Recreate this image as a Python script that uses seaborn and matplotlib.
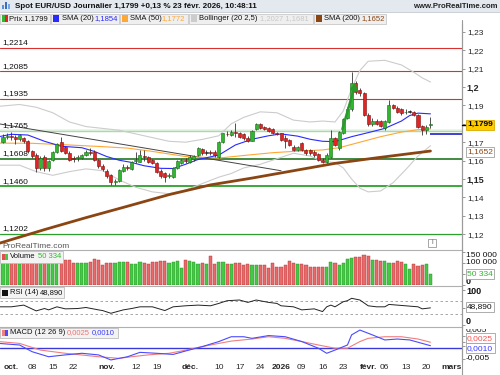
import numpy as np
import pandas as pd
import matplotlib
matplotlib.use("Agg")
import matplotlib.pyplot as plt
from matplotlib.patches import Rectangle
from matplotlib.lines import Line2D
from matplotlib.transforms import Bbox, blended_transform_factory
import seaborn as sns

# ---------------- data ----------------
first_day = "2025-09-29"
holidays = ["2025-12-25", "2026-01-01"]

open_ = [1.1703,1.1730,1.1733,1.1728,1.1716,1.1722,1.1705,1.1650,1.1628,1.1558,
         1.1621,1.1562,1.1603,1.1649,1.1699,1.1672,1.1643,1.1612,1.1612,1.1616,
         1.1630,1.1649,1.1649,1.1603,1.1572,1.1545,1.1520,1.1484,1.1489,1.1545,
         1.1566,1.1553,1.1598,1.1594,1.1625,1.1618,1.1603,1.1585,1.1545,1.1534,
         1.1518,1.1513,1.1561,1.1585,1.1603,1.1594,1.1606,1.1630,1.1661,1.1643,
         1.1645,1.1648,1.1621,1.1703,1.1745,1.1739,1.1755,1.1752,1.1743,1.1725,
         1.1708,1.1770,1.1797,1.1784,1.1775,1.1770,1.1748,1.1748,1.1721,1.1712,
         1.1676,1.1658,1.1694,1.1658,1.1658,1.1648,1.1636,1.1603,1.1594,1.1621,
         1.1721,1.1667,1.1752,1.1830,1.1880,1.2020,1.1984,1.1966,1.1848,1.1799,
         1.1815,1.1815,1.1775,1.1811,1.1902,1.1888,1.1879,1.1862,1.1866,1.1866,
         1.1848,1.1788,1.1766,1.1793]
high = [1.1742,1.1752,1.1755,1.1740,1.1745,1.1730,1.1710,1.1660,1.1640,1.1625,
        1.1628,1.1605,1.1652,1.1698,1.1728,1.1680,1.1650,1.1625,1.1630,1.1636,
        1.1656,1.1667,1.1660,1.1610,1.1580,1.1556,1.1528,1.1502,1.1555,1.1580,
        1.1578,1.1600,1.1648,1.1655,1.1657,1.1625,1.1610,1.1590,1.1552,1.1540,
        1.1530,1.1565,1.1602,1.1610,1.1612,1.1628,1.1630,1.1672,1.1670,1.1660,
        1.1658,1.1655,1.1708,1.1752,1.1760,1.1765,1.1803,1.1758,1.1750,1.1732,
        1.1768,1.1803,1.1806,1.1790,1.1782,1.1775,1.1755,1.1752,1.1740,1.1718,
        1.1685,1.1682,1.1700,1.1665,1.1665,1.1655,1.1642,1.1612,1.1640,1.1767,
        1.1730,1.1762,1.1830,1.1890,1.2083,1.2030,1.1995,1.1975,1.1860,1.1830,
        1.1825,1.1820,1.1822,1.1929,1.1910,1.1895,1.1885,1.1878,1.1875,1.1872,
        1.1855,1.1795,1.1792,1.1839]
low = [1.1698,1.1715,1.1712,1.1690,1.1708,1.1698,1.1640,1.1615,1.1540,1.1548,
       1.1545,1.1545,1.1596,1.1640,1.1645,1.1635,1.1598,1.1590,1.1600,1.1608,
       1.1625,1.1630,1.1598,1.1562,1.1545,1.1505,1.1470,1.1468,1.1484,1.1540,
       1.1550,1.1548,1.1585,1.1590,1.1600,1.1588,1.1580,1.1530,1.1505,1.1485,
       1.1505,1.1508,1.1555,1.1580,1.1585,1.1588,1.1600,1.1625,1.1632,1.1630,
       1.1632,1.1622,1.1615,1.1698,1.1732,1.1735,1.1730,1.1722,1.1712,1.1700,
       1.1705,1.1765,1.1770,1.1765,1.1755,1.1742,1.1738,1.1705,1.1667,1.1680,
       1.1652,1.1650,1.1650,1.1632,1.1632,1.1622,1.1598,1.1585,1.1588,1.1612,
       1.1680,1.1660,1.1745,1.1825,1.1870,1.1960,1.1950,1.1840,1.1790,1.1790,
       1.1795,1.1782,1.1768,1.1805,1.1878,1.1860,1.1850,1.1855,1.1858,1.1840,
       1.1778,1.1740,1.1745,1.1778]
close = [1.1730,1.1733,1.1728,1.1716,1.1738,1.1705,1.1650,1.1625,1.1562,1.1616,
         1.1558,1.1598,1.1645,1.1688,1.1652,1.1640,1.1603,1.1607,1.1618,1.1630,
         1.1649,1.1640,1.1603,1.1570,1.1554,1.1515,1.1485,1.1490,1.1549,1.1567,
         1.1558,1.1594,1.1603,1.1630,1.1621,1.1594,1.1585,1.1540,1.1516,1.1512,
         1.1522,1.1558,1.1597,1.1603,1.1598,1.1621,1.1625,1.1666,1.1639,1.1645,
         1.1640,1.1630,1.1703,1.1748,1.1742,1.1757,1.1750,1.1730,1.1721,1.1708,
         1.1763,1.1797,1.1775,1.1770,1.1763,1.1748,1.1745,1.1712,1.1705,1.1685,
         1.1658,1.1676,1.1658,1.1639,1.1639,1.1630,1.1603,1.1594,1.1630,1.1721,
         1.1685,1.1757,1.1824,1.1880,1.2020,1.1975,1.1966,1.1848,1.1797,1.1815,
         1.1799,1.1790,1.1815,1.1902,1.1884,1.1866,1.1857,1.1866,1.1868,1.1848,
         1.1784,1.1766,1.1784,1.1799]
volume_thousands = [105,105,105,105,93,105,105,105,105,105,
                    105,105,105,105,105,112,112,97,97,97,
                    97,105,117,112,90,97,97,97,102,102,
                    105,95,95,105,97,94,105,105,109,109,
                    97,105,109,75,112,108,102,94,97,94,
                    130,93,102,102,95,95,97,97,90,93,
                    90,90,90,90,76,97.5,82.5,82.5,90,108,
                    97.5,94.5,93,90,82.5,82.5,82.5,79.5,82.5,102,
                    97.5,90,97.5,117,120,127.5,124.5,135,132,112.5,
                    112.5,108,109.5,97.5,97.5,108,102,94.5,72,93,
                    85.5,90,93,50.334]

# indicator lines (trading-day number, value)
sma20_day = [-1, 2, 6, 10, 14, 19, 22, 25, 28, 31, 34, 38, 41, 44, 47, 52, 56, 60, 64, 67, 71, 74, 77, 80, 84, 88, 92, 96, 98, 100, 103]
sma20_val = [1.1730, 1.1743, 1.1739, 1.1705, 1.1678, 1.1670, 1.1650, 1.1622, 1.1602, 1.1590, 1.1572, 1.1558, 1.1557, 1.1580, 1.1606, 1.1630, 1.1685, 1.1716, 1.1735, 1.1745, 1.1733, 1.1716, 1.1705, 1.1703, 1.1730, 1.1752, 1.1775, 1.1815, 1.1845, 1.1858, 1.1854]
sma50_day = [-1, 7, 15, 23, 30, 36, 44, 52, 59, 65, 70, 77, 81, 86, 91, 96, 100, 103]
sma50_val = [1.1695, 1.1694, 1.1686, 1.1677, 1.1668, 1.1650, 1.1622, 1.1614, 1.1630, 1.1643, 1.1650, 1.1658, 1.1670, 1.1700, 1.1730, 1.1755, 1.1768, 1.1772]
sma200_day = [-1, 10, 20, 30, 40, 50, 60, 70, 80, 90, 103]
sma200_val = [1.1150, 1.1225, 1.1290, 1.1352, 1.1415, 1.1468, 1.1505, 1.1545, 1.1585, 1.1615, 1.1652]
bb_up_day = [-1, 4, 8, 12, 16, 20, 24, 28, 32, 36, 40, 44, 48, 52, 55, 58, 62, 66, 70, 74, 77, 80, 82, 84, 86, 88, 92, 96, 99, 101, 103]
bb_up_val = [1.1895, 1.1905, 1.1890, 1.1860, 1.1810, 1.1785, 1.1775, 1.1765, 1.1745, 1.1725, 1.1705, 1.1700, 1.1715, 1.1735, 1.1800, 1.1835, 1.1865, 1.1860, 1.1820, 1.1810, 1.1815, 1.1810, 1.1870, 1.1990, 1.2090, 1.2140, 1.2145, 1.2120, 1.2080, 1.2050, 1.2027]
bb_lo_day = [-1, 4, 8, 12, 16, 20, 24, 28, 32, 36, 40, 44, 48, 52, 55, 58, 62, 66, 70, 74, 77, 80, 82, 84, 86, 88, 91, 94, 97, 100, 103]
bb_lo_val = [1.1575, 1.1575, 1.1540, 1.1520, 1.1540, 1.1555, 1.1545, 1.1495, 1.1455, 1.1430, 1.1420, 1.1440, 1.1475, 1.1510, 1.1530, 1.1560, 1.1580, 1.1610, 1.1640, 1.1625, 1.1595, 1.1590, 1.1560, 1.1500, 1.1450, 1.1430, 1.1435, 1.1480, 1.1550, 1.1625, 1.1681]
rsi_day = [-1, 2, 5, 8, 10, 11, 13, 15, 18, 20, 23, 24, 26, 29, 31, 33, 36, 39, 41, 44, 47, 50, 52, 54, 57, 59, 61, 64, 66, 67, 70, 72, 75, 77, 78, 79, 80, 82, 83, 84, 86, 88, 90, 92, 93, 95, 97, 100, 101, 103]
rsi_val = [52, 52, 57, 40, 47, 43, 52, 46, 47, 50, 43, 41, 33, 43, 47, 52, 52, 41, 52, 55, 57, 55, 62, 70, 72, 65, 72, 65, 62, 55, 52, 43, 46, 38, 52, 57, 52, 67, 70, 77, 72, 55, 52, 52, 59, 57, 55, 52, 46, 48.89]
macd_red_day = [-1, 4, 9, 15, 23, 28, 31, 35, 40, 43, 48, 52, 55, 60, 64, 68, 72, 76, 80, 83, 86, 88, 92, 96, 100, 103]
macd_red_val = [0.0028, 0.0020, -0.0009, -0.0023, -0.0038, -0.0045, -0.0038, -0.0030, -0.0023, -0.0013, 0.0006, 0.0020, 0.0030, 0.0039, 0.0049, 0.0042, 0.0028, 0.0013, -0.0001, -0.0001, 0.0028, 0.0042, 0.0049, 0.0049, 0.0039, 0.0025]
macd_blue_day = [-1, 4, 7, 11, 15, 19, 23, 26, 30, 33, 37, 41, 44, 48, 52, 55, 58, 60, 64, 68, 72, 76, 78, 80, 83, 84, 86, 89, 92, 95, 98, 101, 103]
macd_blue_val = [0.0020, 0.0013, -0.0016, -0.0038, -0.0030, -0.0023, -0.0030, -0.0052, -0.0038, -0.0019, -0.0023, -0.0028, -0.0013, 0.0006, 0.0028, 0.0049, 0.0049, 0.0042, 0.0054, 0.0049, 0.0028, -0.0001, -0.0023, -0.0009, 0.0013, 0.0057, 0.0078, 0.0057, 0.0035, 0.0039, 0.0035, 0.0020, 0.0010]

# drawn objects on the price chart
red_levels = [1.2214, 1.2085, 1.1935]
light_level = [1.1765]
green_levels = [1.1608, 1.1460, 1.1202]
trend_day = [-1, 67]
trend_val = [1.1800, 1.1545]
arrow_day = [81.6, 85.2]
arrow_val = [1.1757, 1.2040]
marker_level = 1.1745

tick_dates = ["2025-10-01", "2025-10-08", "2025-10-15", "2025-10-22", "2025-11-03",
              "2025-11-12", "2025-11-19", "2025-12-01", "2025-12-10", "2025-12-17",
              "2025-12-24", "2026-01-02", "2026-01-09", "2026-01-16", "2026-01-23",
              "2026-02-02", "2026-02-06", "2026-02-13", "2026-02-20", "2026-03-02"]
tick_labels = ["oct.", "08", "15", "22", "nov.", "12", "19", "déc.", "10", "17",
               "24", "2026", "09", "16", "23", "févr.", "06", "13", "20", "mars"]
bold_ticks = {"oct.", "nov.", "déc.", "2026", "févr.", "mars"}

# ---------------- figure ----------------
sns.set_style("white")
plt.rcParams["font.family"] = ["Liberation Sans", "DejaVu Sans"]

W, H = 500, 375
fig = plt.figure(figsize=(5, 3.75), dpi=100)


def add_ax(y0, y1, x0=0, x1=462):
    return fig.add_axes([x0 / W, 1 - y1 / H, (x1 - x0) / W, (y1 - y0) / H])


def frect(x0, y0, x1, y1, **kw):
    r = Rectangle((x0 / W, 1 - y1 / H), (x1 - x0) / W, (y1 - y0) / H,
                  transform=fig.transFigure, **kw)
    fig.add_artist(r)
    return r


def ftext(x, y, s, **kw):
    kw.setdefault("va", "center")
    kw.setdefault("ha", "left")
    return fig.text(x / W, 1 - y / H, s, **kw)


def fline(x0, y0, x1, y1, **kw):
    fig.add_artist(Line2D([x0 / W, x1 / W], [1 - y0 / H, 1 - y1 / H],
                          transform=fig.transFigure, **kw))


ax = add_ax(24, 250)
axv = add_ax(250, 285)
axr = add_ax(286, 327)
axm = add_ax(327, 362)

dates = pd.bdate_range(first_day, "2026-03-13")
dates = dates[~dates.isin(pd.to_datetime(holidays))]
n = len(close)
days = np.arange(n)
o, h, l, c = map(np.array, (open_, high, low, close))
up = c >= o
doji = np.abs(c - o) < 0.00025

for a in (ax, axv, axr, axm):
    a.set_xlim(-0.72, 110.6)
    for s in ("left", "bottom", "top"):
        a.spines[s].set_visible(False)
    a.spines["right"].set_color("#9a9a9a")
    a.spines["right"].set_linewidth(0.8)
    a.yaxis.tick_right()
    a.tick_params(axis="y", length=2, width=0.6, color="#888888", labelsize=6, pad=1.5)
    a.tick_params(axis="x", length=0, labelbottom=False)
for a in (axv, axr, axm):
    a.spines["top"].set_visible(True)
    a.spines["top"].set_color("#b0b0b0")
    a.spines["top"].set_linewidth(0.8)

# ---- price panel ----
ax.set_ylim(1.2 + (87 - 250) / 1840, 1.2 + (87 - 24) / 1840)
yt = np.round(np.arange(1.12, 1.2301, 0.01), 2)
ax.set_yticks(yt)
labs = [(f"{v:.2f}".rstrip("0")).replace(".", ",") for v in yt]
# the 1,18 label sits under the current-price box, as in the original
labs = ["" if abs(v - 1.18) < 1e-9 else s for v, s in zip(yt, labs)]
ax.set_yticklabels(labs)
for t, v in zip(ax.get_yticklabels(), yt):
    if abs(v - 1.2) < 1e-9 or abs(v - 1.15) < 1e-9:
        t.set_fontweight("bold")
        t.set_fontsize(6.5)

bt = blended_transform_factory(ax.transAxes, ax.transData)
for v in red_levels:
    ax.axhline(v, color="#d93030", lw=0.8, zorder=1)
for v in light_level:
    ax.axhline(v + 0.0004, color="#a8d8a8", lw=1.0, zorder=1)
    ax.axhline(v - 0.0004, color="#a8d8a8", lw=1.0, zorder=1)
    ax.axhline(v, color="#d8eed8", lw=0.8, zorder=1)
ax.axhline(green_levels[0], color="#0f6a0f", lw=1.1, zorder=1)
ax.axhline(green_levels[1], color="#2ca02c", lw=1.3, zorder=1)
ax.axhline(green_levels[2], color="#2ca02c", lw=0.9, zorder=1)
for v in red_levels + light_level + green_levels:
    ax.text(0.005, v + 0.0009, f"{v:.4f}".replace(".", ","), transform=bt,
            fontsize=6, va="bottom", ha="left", color="#111111", zorder=6)

sns.lineplot(x=bb_up_day, y=bb_up_val, ax=ax, color="#cccccc", linewidth=0.8, estimator=None, zorder=2)
sns.lineplot(x=bb_lo_day, y=bb_lo_val, ax=ax, color="#cccccc", linewidth=0.8, estimator=None, zorder=2)
sns.lineplot(x=trend_day, y=trend_val, ax=ax, color="#444444", linewidth=0.7, estimator=None, zorder=2)
sns.lineplot(x=sma200_day, y=sma200_val, ax=ax, color="#8b4513", linewidth=2.0, estimator=None, zorder=2)
sns.lineplot(x=sma50_day, y=sma50_val, ax=ax, color="#ffa733", linewidth=0.8, estimator=None, zorder=2)
sns.lineplot(x=sma20_day, y=sma20_val, ax=ax, color="#2a2aff", linewidth=0.8, estimator=None, zorder=2)

body_lo = np.minimum(o, c)
body_h = np.maximum(np.abs(c - o), 0.00012)
fc = ["#222222" if d else ("#2fb82f" if u else "#e02424") for u, d in zip(up, doji)]
ec = ["#222222" if d else ("#1a6a1a" if u else "#7a1010") for u, d in zip(up, doji)]
ax.vlines(days, l, h, color="#333333", lw=0.6, zorder=3)
ax.bar(days, body_h, bottom=body_lo, width=0.74, color=fc, edgecolor=ec, linewidth=0.4, zorder=4)

ax.annotate("", xy=(arrow_day[1], arrow_val[1]), xytext=(arrow_day[0], arrow_val[0]),
            arrowprops=dict(arrowstyle="-|>", color="#2a9a2a", lw=1.8, mutation_scale=9),
            zorder=5)
ax.hlines(marker_level, n - 1, 110.6, color="#2020cc", lw=1.2, zorder=5)

# ---- volume panel ----
vol = np.array(volume_thousands) * 1000
vfc = ["#45c845" if u else "#e86a6a" for u in up]
vec = ["#2a8a2a" if u else "#b03030" for u in up]
axv.bar(days, vol, width=0.75, color=vfc, edgecolor=vec, linewidth=0.3)
axv.set_ylim(0, 157500)
axv.set_yticks([0, vol[-1], 100000, 150000])
axv.set_yticklabels([])

# ---- RSI panel ----
axr.set_ylim(-7.35, 113.2)
for v in (70, 30):
    axr.axhline(v, color="#999999", lw=0.6, ls=(0, (3, 3)))
sns.lineplot(x=rsi_day, y=rsi_val, ax=axr, color="#222222", linewidth=0.7, estimator=None)
axr.set_yticks([0, rsi_val[-1], 100])
axr.set_yticklabels([])

# ---- MACD panel ----
axm.set_ylim(-0.00609, 0.00913)
axm.axhline(0, color="#3a3ad8", lw=1.0)
sns.lineplot(x=macd_red_day, y=macd_red_val, ax=axm, color="#f07f7f", linewidth=0.8, estimator=None)
sns.lineplot(x=macd_blue_day, y=macd_blue_val, ax=axm, color="#4a4aff", linewidth=0.8, estimator=None)
axm.set_yticks([-0.005, macd_blue_val[-1], macd_red_val[-1], 0.005])
axm.set_yticklabels([])

tick_pos = [dates.get_loc(pd.Timestamp(d)) for d in tick_dates]
axm.set_xticks(tick_pos)
axm.set_xticklabels(tick_labels)
axm.tick_params(axis="x", labelbottom=True, length=0, pad=1.5, labelsize=6)
for t in axm.get_xticklabels():
    if t.get_text() in bold_ticks:
        t.set_fontweight("bold")

for a in (ax, axv, axr, axm):
    a.set_xlabel("")
    a.set_ylabel("")

# ---- header ----
frect(0, 0, 500, 12, fc="#e4e9ef", ec="none", zorder=0)
fline(0, 12, 500, 12, color="#c3c9d0", lw=0.6)
for i, (hh, col) in enumerate([(4, "#5b8fd6"), (7, "#3a6fc0"), (5, "#7aa8e6")]):
    frect(2 + i * 3, 9 - hh, 4 + i * 3, 9, fc=col, ec="none")
ftext(15, 6, "Spot EUR/USD Journalier 1,1799 +0,13 % 23 févr. 2026, 10:48:11",
      fontsize=5.8, fontweight="bold", color="#111111")
ftext(498, 6, "www.ProRealTime.com", ha="right", fontsize=5.6, fontweight="bold", color="#222222")

legend_items = [
    (0, 50, ("#2fb82f", "#e02424"), [(9, "Prix 1,1799", "#111111")]),
    (51, 119, ("#2a2aff",), [(62, "SMA (20)", "#111111"), (94, "1,1854", "#2a2aff")]),
    (120, 188, ("#ffa733",), [(130, "SMA (50)", "#111111"), (161, "1,1772", "#ffa733")]),
    (189, 313, ("#cccccc",), [(199, "Bollinger (20 2,5)", "#111111"), (260, "1,2027 1,1681", "#c8c8c8")]),
    (314, 386, ("#8b4513",), [(324, "SMA (200)", "#111111"), (361, "1,1652", "#8b4513")]),
]
for x0, x1, cols, texts in legend_items:
    frect(x0, 13.5, x1, 23.5, fc="#efefef", ec="#c8c8c8", lw=0.6)
    w = 6 / len(cols)
    for k, col in enumerate(cols):
        frect(x0 + 2 + k * w, 15.5, x0 + 2 + (k + 1) * w, 21.5, fc=col, ec="none")
    for xt, s, col in texts:
        ftext(xt, 18.7, s, fontsize=5.5, color=col)

# vertical axis line through header and date row
fline(462, 20, 462, 375, color="#9a9a9a", lw=0.8)

# ---- panel captions ----
frect(0, 251, 63, 263, fc="#f3f3f3", ec="#bdbdbd", lw=0.6)
frect(2, 254, 5, 260, fc="#e05050", ec="none")
frect(5, 254, 8, 260, fc="#45c845", ec="none")
ftext(10, 257, "Volume", fontsize=5.5, color="#111111")
ftext(38, 257, "50 334", fontsize=5.5, color="#33b533")

frect(0, 287, 64, 298, fc="#f3f3f3", ec="#bdbdbd", lw=0.6)
frect(2, 289.5, 8, 295.5, fc="#111111", ec="none")
ftext(10, 292.5, "RSI (14)", fontsize=5.5, color="#111111")
ftext(40, 292.5, "48,890", fontsize=5.5, color="#111111")

frect(0, 327.5, 118, 338, fc="#f3f3f3", ec="#bdbdbd", lw=0.6)
frect(2, 330, 5, 336, fc="#f07f7f", ec="none")
frect(5, 330, 8, 336, fc="#4a4aff", ec="none")
ftext(10, 332.8, "MACD (12 26 9)", fontsize=5.5, color="#111111")
ftext(67, 332.8, "0,0025", fontsize=5.5, color="#f07070")
ftext(92, 332.8, "0,0010", fontsize=5.5, color="#3a3aff")

ftext(2, 246, "ProRealTime.com", fontsize=6, color="#555555")
frect(428, 239, 436, 247, fc="white", ec="#999999", lw=0.6)
ftext(432, 243, "i", fontsize=5, ha="center", color="#666666")

# ---- right-hand value labels ----
def box(x, y, s, fg, bg, edge, bold=False):
    ftext(x, y, s, fontsize=6, color=fg, fontweight="bold" if bold else "normal",
          bbox=dict(boxstyle="square,pad=0.18", fc=bg, ec=edge, lw=0.6), zorder=10)

fline(462, 124.5, 466, 124.5, color="black", lw=1.0)
box(467, 124.5, "1,1799", "black", "#ffcc00", "#d8aa00", bold=True)
box(467, 151.5, "1,1652", "#8b4513", "white", "#a0a0a0")

ftext(466, 255.7, "150 000", fontsize=6, color="#111111")
ftext(466, 262.7, "100 000", fontsize=6, color="#111111")
box(467, 274, "50 334", "#33b533", "white", "#a0a0a0")
ftext(466, 281.3, "0", fontsize=6.5, fontweight="bold", color="#111111")

ftext(466, 291.5, "100", fontsize=6.5, fontweight="bold", color="#111111")
box(467, 306.7, "48,890", "#111111", "white", "#a0a0a0")
ftext(466, 321.5, "0", fontsize=6.5, fontweight="bold", color="#111111")

t = ftext(466, 329.8, "0,005", fontsize=6, color="#111111")
t.set_clip_box(Bbox.from_extents(0, 0, W, H - 328.5))
t.set_clip_on(True)
box(467, 338.3, "0,0025", "#ee5555", "white", "#a0a0a0")
box(467, 348.3, "0,0010", "#3a3aff", "white", "#a0a0a0")
ftext(466, 357.7, "-0,005", fontsize=6, color="#111111")

fig.savefig("out.png", dpi=100)
